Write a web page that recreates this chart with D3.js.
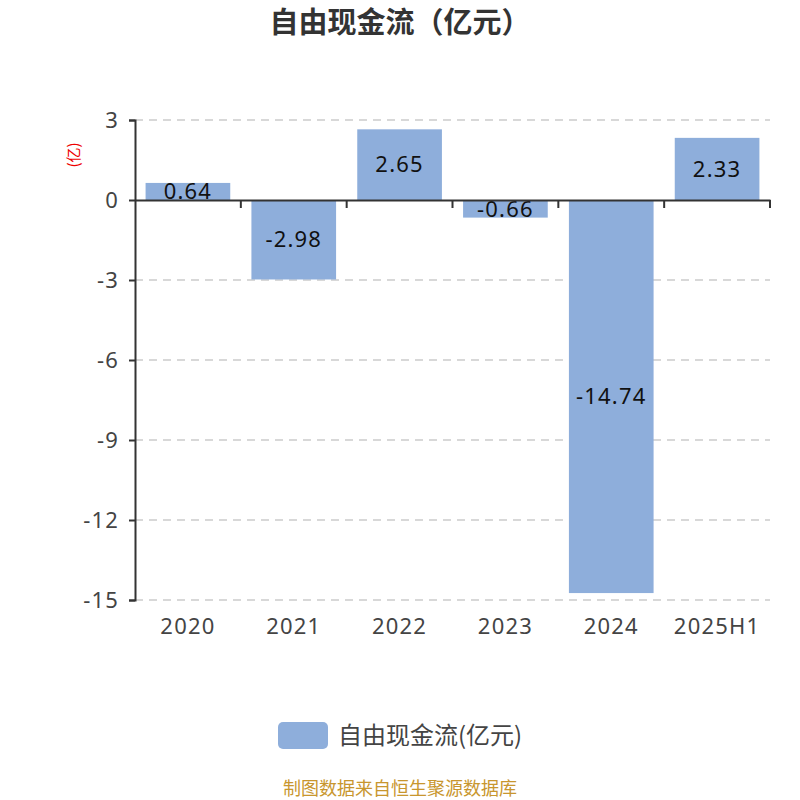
<!DOCTYPE html>
<html>
<head>
<meta charset="utf-8">
<script src="https://cdn.jsdelivr.net/npm/d3@7"></script>
<style>
  body { margin: 0; background: #fff; }
  text { font-family: "Noto Sans CJK SC", "Noto Sans", sans-serif; }
  .num { font-family: "Noto Sans", sans-serif; letter-spacing: 1.2px; }
</style>
</head>
<body>
<div id="chart"></div>
<script>
// data
const categories = ["2020", "2021", "2022", "2023", "2024", "2025H1"];
const values = [0.64, -2.98, 2.65, -0.66, -14.74, 2.33];
const yTicks = [3, 0, -3, -6, -9, -12, -15];
const seriesName = "自由现金流(亿元)";

const W = 800, H = 800;
const margin = { top: 120, right: 30, bottom: 200, left: 135 };

const svg = d3.select("#chart").append("svg")
  .attr("width", W).attr("height", H);

svg.append("text")
  .attr("x", 400).attr("y", 33)
  .attr("text-anchor", "middle")
  .attr("font-size", 29).attr("font-weight", "bold")
  .attr("fill", "#333")
  .text("自由现金流（亿元）");

let x = d3.scaleBand()
  .domain(categories)
  .range([margin.left, W - margin.right])
  .paddingInner(0.2).paddingOuter(0.1);

let y = d3.scaleLinear()
  .domain([-15, 3])
  .range([H - margin.bottom, margin.top]);

// grid
svg.append("g").selectAll("line")
  .data(yTicks.filter(d => d !== 0))
  .join("line")
  .attr("x1", margin.left).attr("x2", W - margin.right)
  .attr("y1", d => y(d)).attr("y2", d => y(d))
  .attr("stroke", "#ccc").attr("stroke-dasharray", "8,6").attr("stroke-width", 1.5);

// bars
svg.append("g").selectAll("rect")
  .data(values)
  .join("rect")
  .attr("x", (d, i) => x(categories[i]))
  .attr("width", x.bandwidth())
  .attr("y", d => y(Math.max(0, d)))
  .attr("height", d => Math.abs(y(d) - y(0)))
  .attr("fill", "#8eaedb");

// value labels
svg.append("g").selectAll("text")
  .data(values)
  .join("text")
  .attr("class", "num")
  .attr("x", (d, i) => x(categories[i]) + x.bandwidth() / 2)
  .attr("y", d => (y(d) + y(0)) / 2)
  .attr("dy", "0.35em")
  .attr("text-anchor", "middle")
  .attr("font-size", 22)
  .attr("fill", "#111")
  .text(d => d.toFixed(2));

// y axis
const yAxis = svg.append("g")
  .attr("transform", `translate(${margin.left},0)`)
  .call(d3.axisLeft(y).tickValues(yTicks).tickSize(6).tickPadding(10).tickFormat(d => String(d)));
yAxis.select(".domain").attr("stroke", "#333").attr("stroke-width", 2);
yAxis.selectAll(".tick line").attr("stroke", "#333").attr("stroke-width", 2);
yAxis.selectAll(".tick text").attr("class", "num").attr("font-size", 22).attr("fill", "#444");

// x axis at zero
const step = x.step();
const xAxis = svg.append("g")
  .attr("transform", `translate(0,${y(0)})`)
  .call(d3.axisBottom(x).tickSize(0).tickFormat(""));
xAxis.select(".domain").attr("stroke", "#333").attr("stroke-width", 2);
xAxis.selectAll(".tick").remove();
const bounds = d3.range(1, categories.length + 1).map(i => x(categories[0]) - x.step() * x.paddingOuter() + i * step);
xAxis.selectAll("line.b")
  .data(bounds)
  .join("line")
  .attr("x1", d => d).attr("x2", d => d)
  .attr("y1", 0).attr("y2", 8)
  .attr("stroke", "#333").attr("stroke-width", 2);

// category labels at bottom
svg.append("g").selectAll("text")
  .data(categories)
  .join("text")
  .attr("class", "num")
  .attr("x", d => x(d) + x.bandwidth() / 2)
  .attr("y", H - margin.bottom + 34)
  .attr("text-anchor", "middle")
  .attr("font-size", 22)
  .attr("fill", "#444")
  .text(d => d);

// unit label
svg.append("text")
  .attr("transform", "translate(79,155) rotate(-90)")
  .attr("text-anchor", "middle")
  .attr("font-size", 15)
  .attr("fill", "#e00")
  .text("(亿)");

// legend
svg.append("rect")
  .attr("x", 278).attr("y", 722).attr("width", 50).attr("height", 27)
  .attr("rx", 5).attr("fill", "#8eaedb");
svg.append("text")
  .attr("x", 338).attr("y", 736).attr("dy", "0.35em")
  .attr("font-size", 24).attr("fill", "#444")
  .text(seriesName);

// source
svg.append("text")
  .attr("x", 400).attr("y", 789).attr("dy", "0.35em")
  .attr("text-anchor", "middle")
  .attr("font-size", 18).attr("fill", "#c8962e")
  .text("制图数据来自恒生聚源数据库");
</script>
</body>
</html>
